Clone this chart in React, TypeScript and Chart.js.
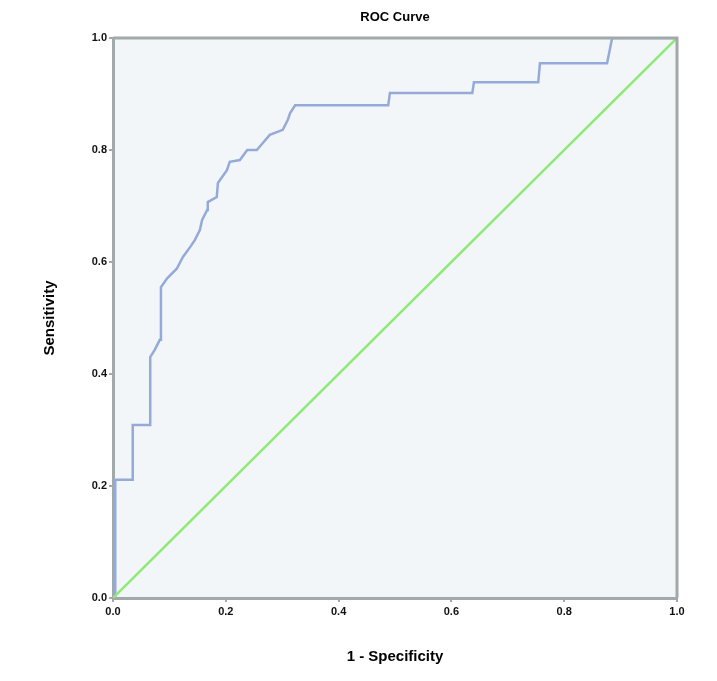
import React, { useEffect, useRef } from "react";
import { Chart, registerables } from "chart.js";

Chart.register(...registerables);

// ROC curve vertices (1 - specificity, sensitivity)
const fpr = [0, 0.004, 0.004, 0.035, 0.035, 0.066, 0.066, 0.074, 0.083, 0.085, 0.085, 0.096, 0.113, 0.124, 0.137, 0.145, 0.154, 0.158, 0.167, 0.168, 0.184, 0.186, 0.202, 0.207, 0.225, 0.238, 0.255, 0.266, 0.278, 0.301, 0.31, 0.314, 0.323, 0.488, 0.491, 0.637, 0.64, 0.754, 0.757, 0.876, 0.885, 1.0];
const tpr = [0, 0, 0.211, 0.211, 0.309, 0.309, 0.43, 0.443, 0.461, 0.461, 0.555, 0.571, 0.588, 0.609, 0.627, 0.639, 0.657, 0.675, 0.693, 0.707, 0.716, 0.741, 0.764, 0.779, 0.782, 0.8, 0.8, 0.813, 0.827, 0.836, 0.854, 0.866, 0.88, 0.88, 0.902, 0.902, 0.921, 0.921, 0.955, 0.955, 1.0, 1.0];

// Reference diagonal
const refX = [0, 1];
const refY = [0, 1];

const chartTitle = "ROC Curve";
const xTitle = "1 - Specificity";
const yTitle = "Sensitivity";

const frameColor = "#a2a9a9";

const framePlugin = {
  id: "frame",
  beforeDraw(chart: any) {
    const { ctx, chartArea } = chart;
    const { left, top, right, bottom } = chartArea;
    ctx.save();
    ctx.fillStyle = "#f3f6f8";
    ctx.fillRect(left, top, right - left, bottom - top);
    ctx.restore();
  },
  afterDraw(chart: any) {
    const { ctx, chartArea } = chart;
    const { left, top, right, bottom } = chartArea;
    ctx.save();
    ctx.strokeStyle = frameColor;
    ctx.lineWidth = 3;
    ctx.beginPath();
    ctx.moveTo(left, top);
    ctx.lineTo(right, top);
    ctx.lineTo(right, bottom);
    ctx.stroke();
    ctx.restore();
  },
};

export default function App() {
  const ref = useRef<HTMLCanvasElement | null>(null);

  useEffect(() => {
    if (!ref.current) return;
    const rocData = fpr.map((x, i) => ({ x, y: tpr[i] }));
    const diagData = refX.map((x, i) => ({ x, y: refY[i] }));
    const tickFont = { family: "'Liberation Sans', Arial, sans-serif", size: 11, weight: "bold" as const };
    const titleFont = { family: "'Liberation Sans', Arial, sans-serif", size: 15, weight: "bold" as const };
    const chart = new Chart(ref.current, {
      type: "scatter",
      data: {
        datasets: [
          {
            label: "Reference",
            data: diagData,
            showLine: true,
            borderColor: "#8eea76",
            borderWidth: 2.5,
            pointRadius: 0,
            fill: false,
          },
          {
            label: "ROC",
            data: rocData,
            showLine: true,
            borderColor: "#95aad8",
            borderWidth: 2.5,
            pointRadius: 0,
            fill: false,
          },
        ],
      },
      options: {
        responsive: false,
        animation: false,
        layout: { padding: { left: 0, right: 40, top: 0, bottom: 0 } },
        plugins: {
          legend: { display: false },
          tooltip: { enabled: false },
          title: {
            display: true,
            fullSize: false,
            text: chartTitle,
            color: "#000",
            font: { family: "'Liberation Sans', Arial, sans-serif", size: 13, weight: "bold" },
            padding: { top: 10, bottom: 12.4 },
          },
        },
        scales: {
          x: {
            type: "linear",
            min: 0,
            max: 1,
            afterFit: (s: any) => {
              s.height = 83;
            },
            ticks: {
              stepSize: 0.2,
              color: "#111",
              font: tickFont,
              padding: 3,
              maxRotation: 0,
              callback: (v: any) => Number(v).toFixed(1),
            },
            grid: {
              drawOnChartArea: false,
              drawTicks: true,
              tickLength: 4,
              color: frameColor,
              lineWidth: 2,
            },
            border: { display: true, color: frameColor, width: 3 },
            title: {
              display: true,
              text: xTitle,
              color: "#000",
              font: titleFont,
              padding: { top: 0, bottom: 15 },
            },
          },
          y: {
            type: "linear",
            min: 0,
            max: 1,
            afterFit: (s: any) => {
              s.width = 113;
            },
            ticks: {
              stepSize: 0.2,
              color: "#111",
              font: tickFont,
              padding: 2,
              callback: (v: any) => Number(v).toFixed(1),
            },
            grid: {
              drawOnChartArea: false,
              drawTicks: true,
              tickLength: 4,
              color: frameColor,
              lineWidth: 2,
            },
            border: { display: true, color: frameColor, width: 3 },
            title: {
              display: true,
              text: yTitle,
              color: "#000",
              font: titleFont,
              padding: { top: 41, bottom: 0 },
            },
          },
        },
      },
      plugins: [framePlugin],
    });
    return () => chart.destroy();
  }, []);

  return (
    <div style={{ position: "absolute", left: 0, top: 0, width: 717, height: 681, background: "#fff" }}>
      <canvas ref={ref} width={717} height={681} />
    </div>
  );
}
